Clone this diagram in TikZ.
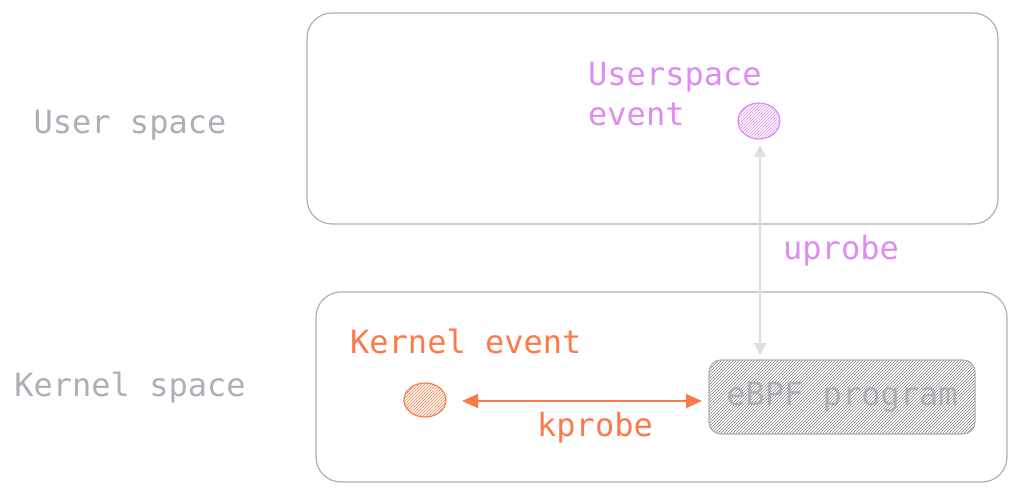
\documentclass[tikz,border=0pt]{standalone}
\usepackage{fontspec}
\setmonofont{DejaVu Sans Mono}
\usetikzlibrary{patterns,arrows.meta,shapes.geometric}
\definecolor{gr}{RGB}{172,176,182}
\definecolor{vi}{RGB}{222,140,242}
\definecolor{orn}{RGB}{252,122,72}
\definecolor{lg}{RGB}{222,222,222}
\begin{document}
\begin{tikzpicture}[x=1pt,y=-1pt,
  lbl/.style={font=\ttfamily\fontsize{32}{40}\selectfont,inner sep=0pt},
  box/.style={draw=gr,line width=1.2pt,rounded corners=25pt}]
\useasboundingbox (0,0) rectangle (1019,494);
\draw[box] (307,13) rectangle (998,224);
\draw[box] (316,292) rectangle (1007,482);
\node[lbl,text=gr] (us) at (130,125) {User space};
\node[lbl,text=gr] (ks) at (130,388) {Kernel space};
\node[lbl,text=vi,anchor=north west,align=left] (ue) at (588,62) {Userspace\\event};
\node[draw=vi,line width=1.2pt,pattern=north east lines,pattern color=vi,ellipse,minimum width=42pt,minimum height=36pt] (vd) at (759,121) {};
\node[lbl,text=orn,anchor=west] (ke) at (350,341) {Kernel event};
\node[draw=orn,line width=1.2pt,pattern=north east lines,pattern color=orn,ellipse,minimum width=42pt,minimum height=34pt] (od) at (425,400) {};
\node[draw=gr,line width=1.2pt,rounded corners=12pt,pattern=north east lines,pattern color=gray,minimum width=266pt,minimum height=74pt,lbl,text=gr] (eb) at (842,397) {eBPF program};
\coordinate (et) at (760,355);
\draw[lg,line width=1.2pt,{Triangle[length=12pt,width=12pt]}-{Triangle[length=12pt,width=12pt]}] (760,145) -- (et);
\node[lbl,text=vi] (up) at (841,251) {uprobe};
\coordinate (ka) at (462,401);
\coordinate (kb) at (702,401);
\draw[orn,line width=1.5pt,{Triangle[length=16pt,width=14pt]}-{Triangle[length=16pt,width=14pt]}] (ka) -- (kb);
\node[lbl,text=orn] (kp) at (595,428) {kprobe};
\end{tikzpicture}
\end{document}
